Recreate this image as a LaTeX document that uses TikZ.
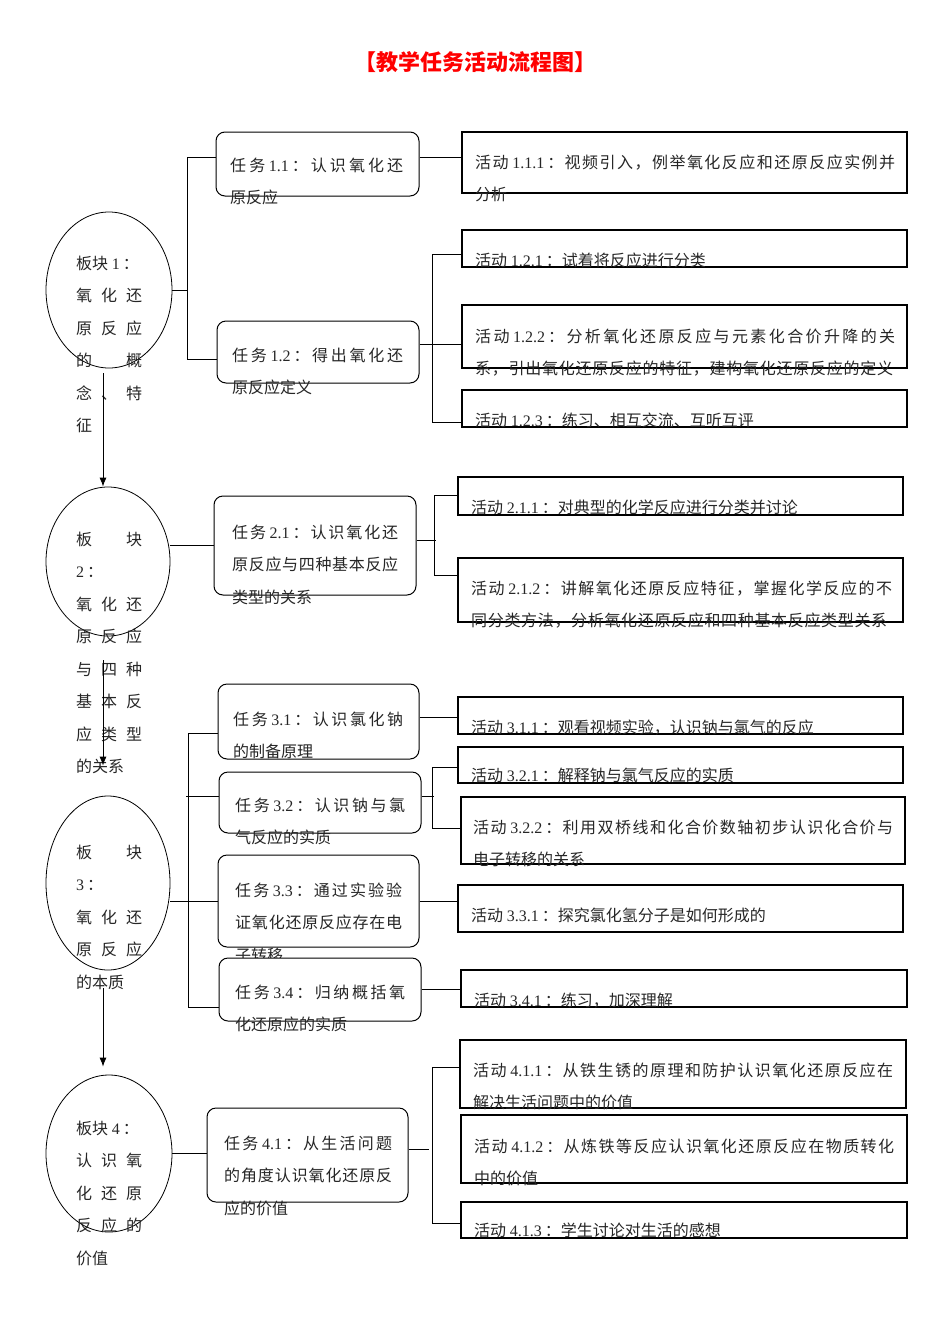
\documentclass[tikz,border=0pt]{standalone}
\usepackage{fontspec}
\setmainfont{Noto Sans CJK SC}
\newfontfamily\latinfont{Liberation Serif}
\usetikzlibrary{shapes.geometric,arrows.meta}
% spread CJK characters in justified lines
\newXeTeXintercharclass\hanclass
\newXeTeXintercharclass\puncclass
\newcount\hancount
\hancount="4E00
\loop
  \XeTeXcharclass\hancount=\hanclass
  \ifnum\hancount<"9FFF \advance\hancount by 1
\repeat
\XeTeXcharclass"FF1A=\puncclass
\XeTeXcharclass"FF0C=\puncclass
\XeTeXcharclass"3001=\puncclass
\XeTeXinterchartoks\hanclass\hanclass={\hskip0pt plus 1fil}
\XeTeXinterchartoks\hanclass\puncclass={\hskip0pt plus 1fil}
\XeTeXinterchartoks\puncclass\hanclass={\hskip0pt plus 1fil}
\newcommand\jline[2]{\hbox to #1{\XeTeXinterchartokenstate=1 #2}}
\newcommand\pline[1]{\hbox{#1}}
\newcommand\dg[1]{{\latinfont #1}\kern3pt}
\tikzset{
  block/.style={ellipse, draw, line width=0.8pt, inner sep=0pt},
  task/.style={draw, rounded corners=9pt, line width=1pt, fill=white, inner sep=0pt},
  act/.style={draw, line width=1.2pt, inner sep=0pt},
  txt/.style={anchor=base west, inner sep=0pt, text=black!85,
    font=\fontsize{16pt}{32.5pt}\selectfont},
  link/.style={line width=0.8pt},
  down/.style={link, -{Latex[length=9pt,width=7pt]}}
}
\begin{document}
\begin{tikzpicture}[x=1pt,y=-1pt]
 \useasboundingbox (0,0) rectangle (950,1344);
 \node (title) [font=\fontsize{22pt}{22pt}\selectfont\bfseries, text=red] at (475,62) {【教学任务活动流程图】};

 % blocks
 \node (e1) [block, minimum width=126pt, minimum height=156pt] at (109,290) {};
 \node (e2) [block, minimum width=124pt, minimum height=149pt] at (108,561.5) {};
 \node (e3) [block, minimum width=124pt, minimum height=174pt] at (108,883) {};
 \node (e4) [block, minimum width=126pt, minimum height=157pt] at (109,1153.5) {};
 \node (e1t) [txt] at (76,269) {\vtop{\pline{板块 \dg{1}：}\jline{66pt}{氧化还}\jline{66pt}{原反应}
   \jline{66pt}{的概}\jline{66pt}{念、特}\pline{征}}};
 \node (e2t) [txt] at (76,545) {\vtop{\jline{66pt}{板块}\pline{\dg{2}：}\jline{66pt}{氧化还}\jline{66pt}{原反应}
   \jline{66pt}{与四种}\jline{66pt}{基本反}\jline{66pt}{应类型}\pline{的关系}}};
 \node (e3t) [txt] at (76,858) {\vtop{\jline{66pt}{板块}\pline{\dg{3}：}\jline{66pt}{氧化还}\jline{66pt}{原反应}
   \pline{的本质}}};
 \node (e4t) [txt] at (76,1134) {\vtop{\pline{板块 \dg{4}：}\jline{66pt}{认识氧}\jline{66pt}{化还原}
   \jline{66pt}{反应的}\pline{价值}}};
 \draw[down] ([xshift=-6pt,yshift=-5pt]e1.south) -- ([xshift=-5pt]e2.north);
 \draw[down] ([xshift=-5pt,yshift=-24pt]e2.south) -- ([xshift=-5pt,yshift=30pt]e3.north);
 \draw[down] ([xshift=-5pt,yshift=-18pt]e3.south) -- ([xshift=-6pt,yshift=8pt]e4.north);

 % tasks
 \node (t11) [task, minimum width=203pt, minimum height=64pt] at (317.5,164) {};
 \node (t11t) [txt] at (230,171) {\vtop{\jline{173pt}{任务 \dg{1.1}：认识氧化还}\pline{原反应}}};
 \node (t12) [task, minimum width=202pt, minimum height=62pt] at (318,352) {};
 \node (t12t) [txt] at (232,361) {\vtop{\jline{171pt}{任务 \dg{1.2}：得出氧化还}\pline{原反应定义}}};
 \node (t21) [task, minimum width=202pt, minimum height=99pt] at (315,545.5) {};
 \node (t21t) [txt] at (232,538) {\vtop{\jline{166pt}{任务 \dg{2.1}：认识氧化还}\jline{166pt}{原反应与四种基本反应}
   \pline{类型的关系}}};
 \node (t31) [task, minimum width=201pt, minimum height=75pt] at (318.5,721.5) {};
 \node (t31t) [txt] at (233,725) {\vtop{\jline{170pt}{任务 \dg{3.1}：认识氯化钠}\pline{的制备原理}}};
 \node (t32) [task, minimum width=202pt, minimum height=61pt] at (320,802.5) {};
 \node (t32t) [txt] at (235,811) {\vtop{\jline{170pt}{任务 \dg{3.2}：认识钠与氯}\pline{气反应的实质}}};
 \node (t33) [task, minimum width=201pt, minimum height=92pt] at (318.5,901) {};
 \node (t33t) [txt] at (235,896) {\vtop{\jline{167pt}{任务 \dg{3.3}：通过实验验}\jline{167pt}{证氧化还原反应存在电}
   \pline{子转移}}};
 \node (t34) [task, minimum width=202pt, minimum height=63pt] at (320,989.5) {};
 \node (t34t) [txt] at (235,998) {\vtop{\jline{170pt}{任务 \dg{3.4}：归纳概括氧}\pline{化还原应的实质}}};
 \node (t41) [task, minimum width=201pt, minimum height=94pt] at (307.5,1155) {};
 \node (t41t) [txt] at (224,1149) {\vtop{\jline{168pt}{任务 \dg{4.1}：从生活问题}\jline{168pt}{的角度认识氧化还原反}
   \pline{应的价值}}};

 % activities
 \node (a111) [act, minimum width=445pt, minimum height=61pt] at (684.5,162.5) {};
 \node (a111t) [txt] at (475,168) {\vtop{\jline{420pt}{活动 \dg{1.1.1}：视频引入，例举氧化反应和还原反应实例并}\pline{分析}}};
 \node (a121) [act, minimum width=445pt, minimum height=37pt] at (684.5,248.5) {};
 \node (a121t) [txt] at (475,266) {活动 \dg{1.2.1}：试着将反应进行分类};
 \node (a122) [act, minimum width=445pt, minimum height=63pt] at (684.5,336.5) {};
 \node (a122t) [txt] at (475,342) {\vtop{\jline{420pt}{活动 \dg{1.2.2}：分析氧化还原反应与元素化合价升降的关}
   \jline{418pt}{系，引出氧化还原反应的特征，建构氧化还原反应的定义}}};
 \node (a123) [act, minimum width=445pt, minimum height=37pt] at (684.5,408.5) {};
 \node (a123t) [txt] at (475,426) {活动 \dg{1.2.3}：练习、相互交流、互听互评};
 \node (a211) [act, minimum width=445pt, minimum height=38pt] at (680.5,496) {};
 \node (a211t) [txt] at (471,513) {活动 \dg{2.1.1}：对典型的化学反应进行分类并讨论};
 \node (a212) [act, minimum width=445pt, minimum height=64pt] at (680.5,590) {};
 \node (a212t) [txt] at (471,594) {\vtop{\jline{421pt}{活动 \dg{2.1.2}：讲解氧化还原反应特征，掌握化学反应的不}
   \jline{416pt}{同分类方法，分析氧化还原反应和四种基本反应类型关系}}};
 \node (a311) [act, minimum width=445pt, minimum height=37pt] at (680.5,715.5) {};
 \node (a311t) [txt] at (471,733) {活动 \dg{3.1.1}：观看视频实验，认识钠与氯气的反应};
 \node (a321) [act, minimum width=445pt, minimum height=36pt] at (680.5,765) {};
 \node (a321t) [txt] at (471,781) {活动 \dg{3.2.1}：解释钠与氯气反应的实质};
 \node (a322) [act, minimum width=444pt, minimum height=67pt] at (683,830.5) {};
 \node (a322t) [txt] at (473,833) {\vtop{\jline{420pt}{活动 \dg{3.2.2}：利用双桥线和化合价数轴初步认识化合价与}\pline{电子转移的关系}}};
 \node (a331) [act, minimum width=445pt, minimum height=47pt] at (680.5,908.5) {};
 \node (a331t) [txt] at (471,921) {活动 \dg{3.3.1}：探究氯化氢分子是如何形成的};
 \node (a341) [act, minimum width=446pt, minimum height=37pt] at (684,988.5) {};
 \node (a341t) [txt] at (474,1006) {活动 \dg{3.4.1}：练习，加深理解};
 \node (a411) [act, minimum width=446pt, minimum height=68pt] at (683,1074) {};
 \node (a411t) [txt] at (473,1076) {\vtop{\jline{420pt}{活动 \dg{4.1.1}：从铁生锈的原理和防护认识氧化还原反应在}\pline{解决生活问题中的价值}}};
 \node (a412) [act, minimum width=446pt, minimum height=68pt] at (684,1149) {};
 \node (a412t) [txt] at (474,1152) {\vtop{\jline{420pt}{活动 \dg{4.1.2}：从炼铁等反应认识氧化还原反应在物质转化}\pline{中的价值}}};
 \node (a413) [act, minimum width=446pt, minimum height=36pt] at (684,1220) {};
 \node (a413t) [txt] at (474,1236) {活动 \dg{4.1.3}：学生讨论对生活的感想};

 % links, block 1
 \draw[link] (e1.east) -- ++(16,0);
 \draw[link] ([yshift=7pt]t11.west) -- ++(-28,0) |- ([yshift=-7pt]t12.west);
 \draw[link] ([yshift=7pt]t11.east) -- ([yshift=7pt]t11.east -| a111.west);
 \draw[link] ([yshift=8pt]t12.east) -- ([yshift=8pt]t12.east -| a122.west);
 \draw[link] ([yshift=-6pt]a121.west) -- ++(-29,0) |- ([yshift=-13.5pt]a123.west);
 % block 2
 \draw[link] (t21.west) -- (t21.west -| e2.east);
 \draw[link] ([yshift=5.5pt]t21.east) -- ++(19,0);
 \draw[link] ([yshift=1pt]a211.west) -- ++(-23,0) |- ([yshift=15pt]a212.west);
 % block 3
 \draw[link] (t33.west) -- (t33.west -| e3.east);
 \draw[link] ([yshift=-11.5pt]t31.west) -- ++(-29,0) |- ([yshift=-17.5pt]t34.west);
 \draw[link] ([yshift=6.5pt]t32.west) -- ++(-33,0);
 \draw[link] ([yshift=4.5pt]t31.east) -- ([yshift=4.5pt]t31.east -| a311.west);
 \draw[link] ([yshift=6.5pt]t32.east) -- ++(12,0);
 \draw[link] ([yshift=-2pt]a321.west) -- ++(-25,0) |- ([yshift=2.5pt]a322.west);
 \draw[link] (t33.east) -- (t33.east -| a331.west);
 \draw[link] (t34.east) -- (t34.east -| a341.west);
 % block 4
 \draw[link] (e4.east) -- (e4.east -| t41.west);
 \draw[link] ([yshift=6pt]t41.east) -- ++(20,0);
 \draw[link] ([yshift=7pt]a411.west) -- ++(-27,0) |- ([yshift=-3pt]a413.west);
\end{tikzpicture}
\end{document}
